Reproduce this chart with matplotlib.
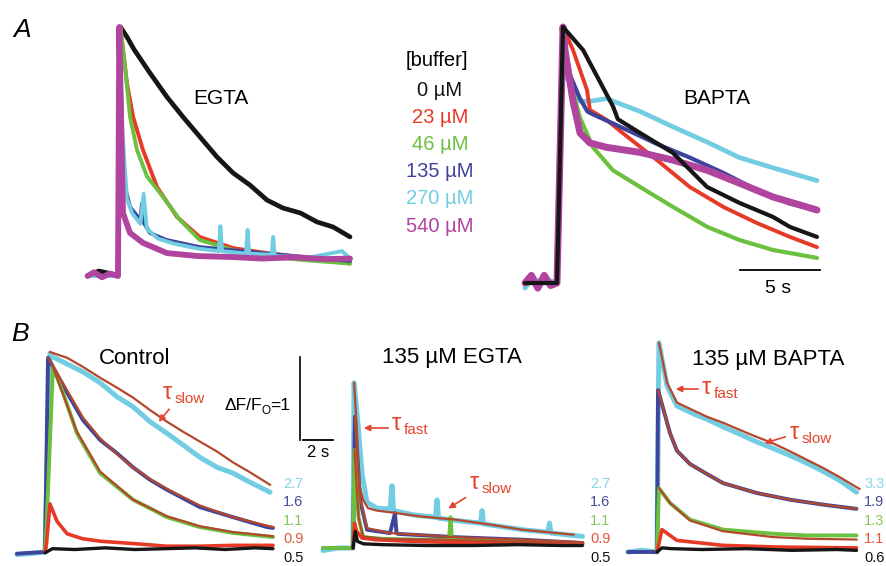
import matplotlib
matplotlib.use("Agg")
import matplotlib.pyplot as plt

plt.rcParams['font.family'] = ['Liberation Sans', 'DejaVu Sans']

W, H = 887, 566

BLACK = '#161616'
RED = '#e63a26'
GREEN = '#6cc040'
BLUE = '#3e449c'
CYAN = '#72cde2'
MAGENTA = '#b0449f'
FIT = '#b4482c'
NOTE = '#e4442c'

CONCS = ['0 µM', '23 µM', '46 µM', '135 µM', '270 µM', '540 µM']
CONC_COLORS = [BLACK, RED, GREEN, BLUE, CYAN, MAGENTA]

# --- A: normalised Ca transients, EGTA (time in s from flash) ---
egta_black_t = [-1.9, -1.2, -0.5, 0.0, 0.15, 0.56, 1.0, 2.0, 3.06, 4.06, 5.13, 6.19, 7.19, 8.25, 9.31, 10.31, 11.4, 12.44, 13.44, 14.5]
egta_black_v = [0.0, 0.02, 0.01, 0.0, 1.0, 0.96, 0.91, 0.815, 0.719, 0.639, 0.558, 0.478, 0.414, 0.365, 0.305, 0.273, 0.253, 0.217, 0.197, 0.157]
egta_red_t = [-1.9, 0.0, 0.15, 0.56, 0.94, 1.56, 2.44, 3.69, 5.1, 7.2, 9.3, 11.4, 14.5]
egta_red_v = [0.0, 0.0, 1.0, 0.775, 0.64, 0.506, 0.357, 0.237, 0.157, 0.112, 0.092, 0.076, 0.05]
egta_green_t = [-1.9, 0.0, 0.15, 0.44, 0.75, 1.19, 1.81, 2.63, 3.88, 5.1, 7.2, 9.3, 11.4, 14.5]
egta_green_v = [0.0, 0.0, 1.0, 0.84, 0.64, 0.506, 0.40, 0.333, 0.225, 0.145, 0.104, 0.08, 0.065, 0.05]
egta_blue_t = [-1.9, 0.0, 0.12, 0.25, 0.44, 0.75, 1.4, 1.5, 1.6, 2.0, 3.0, 5.1, 9.3, 14.5]
egta_blue_v = [0.0, 0.0, 0.98, 0.57, 0.357, 0.277, 0.225, 0.29, 0.215, 0.173, 0.145, 0.116, 0.09, 0.06]
egta_cyan_t = [-1.9, 0.0, 0.1, 0.25, 0.56, 0.9, 1.4, 1.6, 1.8, 2.5, 3.5, 5.0, 6.3, 6.4, 6.5, 8.0, 8.1, 8.2, 9.6, 9.7, 9.8, 12.0, 14.0, 14.5]
egta_cyan_v = [0.0, 0.0, 1.0, 0.6, 0.31, 0.25, 0.21, 0.33, 0.19, 0.15, 0.13, 0.11, 0.1, 0.2, 0.1, 0.09, 0.185, 0.09, 0.085, 0.157, 0.08, 0.075, 0.1, 0.07]
egta_magenta_t = [-1.9, -1.5, -1.0, -0.5, 0.0, 0.08, 0.31, 0.75, 1.56, 3.06, 5.0, 7.2, 9.0, 11.0, 13.0, 14.5]
egta_magenta_v = [0.0, 0.015, -0.005, 0.01, 0.0, 1.0, 0.253, 0.173, 0.133, 0.092, 0.08, 0.076, 0.07, 0.075, 0.068, 0.07]

# --- A: BAPTA ---
bapta_black_t = [-2.0, 0.0, 0.375, 1.63, 3.5, 3.8, 5.19, 7.25, 8.5, 9.38, 11.4, 13.5, 14.56, 16.25]
bapta_black_v = [0.0, 0.0, 1.0, 0.91, 0.69, 0.64, 0.586, 0.508, 0.43, 0.375, 0.313, 0.258, 0.219, 0.18]
bapta_red_t = [-2.0, 0.0, 0.375, 1.0, 1.875, 2.06, 3.1, 4.1, 6.25, 8.3, 10.4, 12.5, 14.56, 16.25]
bapta_red_v = [0.0, 0.0, 1.0, 0.91, 0.754, 0.676, 0.637, 0.586, 0.48, 0.375, 0.297, 0.234, 0.18, 0.14]
bapta_green_t = [-2.0, 0.0, 0.375, 0.625, 1.44, 2.25, 3.5, 5.2, 7.25, 9.4, 11.4, 13.5, 16.25]
bapta_green_v = [0.0, 0.0, 1.0, 0.84, 0.645, 0.53, 0.44, 0.375, 0.297, 0.219, 0.168, 0.129, 0.098]
bapta_blue_t = [-2.0, 0.0, 0.375, 0.625, 1.44, 1.9, 2.2, 4.1, 6.25, 8.3, 10.4, 12.5, 14.56, 16.25]
bapta_blue_v = [0.0, 0.0, 1.0, 0.84, 0.72, 0.67, 0.66, 0.606, 0.543, 0.49, 0.43, 0.363, 0.31, 0.285]
bapta_cyan_t = [-2.0, -1.5, -1.0, -0.5, 0.0, 0.375, 0.625, 1.44, 2.06, 3.1, 5.2, 7.25, 9.4, 11.4, 13.5, 16.25]
bapta_cyan_v = [-0.02, 0.02, 0.0, 0.01, 0.0, 1.0, 0.80, 0.71, 0.71, 0.72, 0.67, 0.61, 0.55, 0.49, 0.45, 0.40]
bapta_magenta_t = [-2.0, -1.6, -1.2, -0.8, -0.4, 0.0, 0.375, 0.5, 1.0, 1.44, 2.06, 3.1, 5.2, 7.25, 9.4, 11.4, 13.5, 16.25]
bapta_magenta_v = [0.0, 0.03, -0.02, 0.03, -0.01, 0.0, 1.0, 0.91, 0.71, 0.586, 0.547, 0.53, 0.51, 0.48, 0.44, 0.39, 0.336, 0.285]

# --- B: dF/F0 at five flash strengths, with exponential fits ---
ctl_cyan_t = [-1.87, -1.0, 0.0, 0.33, 0.53, 2.53, 3.67, 4.8, 5.87, 7.0, 8.13, 9.2, 10.33, 11.47, 12.53, 13.67, 15.0]
ctl_cyan_v = [-0.03, -0.02, 0.0, 2.39, 2.35, 2.17, 2.04, 1.87, 1.75, 1.57, 1.43, 1.29, 1.14, 1.02, 0.95, 0.84, 0.72]
ctl_cyan_fit_t = [0.33, 1.47, 2.53, 3.67, 4.8, 5.87, 7.0, 8.13, 9.2, 10.33, 11.47, 12.53, 13.67, 15.0]
ctl_cyan_fit_v = [2.41, 2.34, 2.23, 2.10, 1.98, 1.86, 1.71, 1.57, 1.45, 1.33, 1.21, 1.08, 0.96, 0.81]
ctl_blue_t = [-1.87, -1.0, 0.0, 0.2, 1.47, 2.53, 3.67, 4.8, 5.87, 7.0, 8.13, 10.33, 12.53, 14.8, 15.2]
ctl_blue_v = [-0.02, -0.01, 0.0, 2.34, 1.92, 1.59, 1.35, 1.19, 1.02, 0.87, 0.75, 0.54, 0.42, 0.30, 0.29]
ctl_blue_fit_t = [0.2, 1.47, 2.53, 3.67, 4.8, 5.87, 7.0, 8.13, 10.33, 12.53, 15.2]
ctl_blue_fit_v = [2.34, 1.95, 1.62, 1.37, 1.18, 1.02, 0.88, 0.76, 0.56, 0.42, 0.30]
ctl_green_t = [0.0, 0.1, 0.53, 1.2, 2.13, 3.67, 5.87, 8.13, 10.33, 12.53, 15.2]
ctl_green_v = [0.0, 0.3, 2.23, 1.92, 1.43, 0.95, 0.63, 0.42, 0.30, 0.23, 0.18]
ctl_green_fit_t = [0.53, 1.2, 2.13, 3.67, 5.87, 8.13, 10.33, 12.53, 15.2]
ctl_green_fit_v = [2.23, 1.90, 1.45, 0.97, 0.63, 0.43, 0.31, 0.24, 0.19]
ctl_red_t = [0.0, 0.1, 0.33, 0.8, 1.47, 2.5, 3.67, 6.0, 8.1, 10.3, 12.5, 15.2]
ctl_red_v = [0.0, 0.1, 0.58, 0.37, 0.22, 0.16, 0.13, 0.10, 0.07, 0.07, 0.08, 0.08]
ctl_black_t = [0.0, 0.5, 2.0, 4.0, 6.0, 8.0, 10.0, 12.0, 14.0, 15.2]
ctl_black_v = [-0.01, 0.04, 0.03, 0.05, 0.03, 0.04, 0.05, 0.03, 0.05, 0.04]

egb_cyan_t = [-2.0, -1.0, 0.0, 0.07, 0.33, 0.6, 0.93, 1.6, 2.47, 2.6, 2.7, 4.0, 5.5, 5.6, 5.7, 6.9, 8.5, 8.6, 8.7, 11.3, 13.0, 13.1, 13.2, 15.3]
egb_cyan_v = [-0.03, 0.0, 0.0, 1.99, 1.5, 0.9, 0.55, 0.48, 0.47, 0.75, 0.45, 0.40, 0.37, 0.58, 0.36, 0.33, 0.30, 0.45, 0.29, 0.22, 0.19, 0.3, 0.18, 0.14]
egb_cyan_fit_t = [0.07, 0.27, 0.33, 0.47, 0.67, 1.0, 1.6, 2.5, 4.5, 6.9, 9.2, 11.3, 14.7]
egb_cyan_fit_v = [1.99, 1.39, 0.98, 0.73, 0.58, 0.48, 0.45, 0.43, 0.38, 0.34, 0.28, 0.22, 0.16]
egb_blue_t = [-2.0, 0.0, 0.13, 0.47, 0.93, 2.47, 2.8, 2.9, 3.0, 6.9, 11.3, 15.3]
egb_blue_v = [0.0, 0.0, 1.58, 0.58, 0.22, 0.18, 0.42, 0.18, 0.17, 0.13, 0.10, 0.06]
egb_blue_fit_t = [0.13, 0.47, 0.93, 2.47, 6.9, 11.3, 15.3]
egb_blue_fit_v = [1.58, 0.6, 0.24, 0.18, 0.13, 0.1, 0.07]
egb_green_t = [-2.0, 0.0, 0.1, 0.37, 0.67, 2.0, 4.7, 6.4, 6.5, 6.6, 10.0, 15.3]
egb_green_v = [0.0, 0.0, 1.18, 0.37, 0.13, 0.11, 0.10, 0.10, 0.37, 0.10, 0.08, 0.05]
egb_green_fit_t = [0.1, 0.37, 0.67, 2.0, 6.0, 10.0, 15.3]
egb_green_fit_v = [1.18, 0.37, 0.14, 0.11, 0.1, 0.08, 0.06]
egb_red_t = [0.0, 0.1, 0.25, 0.6, 1.5, 4.0, 8.0, 12.0, 15.3]
egb_red_v = [0.0, 0.3, 0.2, 0.12, 0.1, 0.08, 0.06, 0.05, 0.05]
egb_black_t = [0.0, 0.15, 0.3, 0.7, 2.0, 5.0, 8.0, 11.0, 14.0, 15.3]
egb_black_v = [0.0, 0.2, 0.08, 0.05, 0.04, 0.03, 0.03, 0.04, 0.03, 0.03]

bpb_cyan_t = [-1.93, -1.0, 0.0, 0.13, 0.67, 1.33, 2.5, 3.33, 4.5, 5.53, 6.6, 7.73, 8.9, 10.0, 11.1, 12.2, 13.3]
bpb_cyan_v = [0.0, 0.02, 0.0, 2.52, 2.0, 1.76, 1.66, 1.6, 1.5, 1.42, 1.33, 1.25, 1.16, 1.07, 0.97, 0.86, 0.72]
bpb_cyan_fit_t = [0.13, 0.67, 1.33, 2.5, 3.33, 4.5, 5.53, 6.6, 7.73, 8.9, 10.0, 11.1, 12.2, 13.5]
bpb_cyan_fit_v = [2.52, 2.04, 1.80, 1.70, 1.63, 1.55, 1.47, 1.39, 1.31, 1.21, 1.11, 1.01, 0.90, 0.76]
bpb_blue_t = [-1.93, 0.0, 0.07, 0.87, 1.33, 2.2, 3.33, 4.4, 6.67, 8.87, 11.1, 13.3]
bpb_blue_v = [0.0, 0.0, 1.95, 1.43, 1.22, 1.06, 0.94, 0.83, 0.71, 0.63, 0.57, 0.52]
bpb_blue_fit_t = [0.07, 0.87, 1.33, 2.2, 3.33, 4.4, 6.67, 8.87, 11.1, 13.3]
bpb_blue_fit_v = [1.95, 1.43, 1.22, 1.06, 0.94, 0.83, 0.71, 0.63, 0.57, 0.52]
bpb_green_t = [0.0, 0.13, 0.87, 2.2, 4.4, 7.73, 10.0, 13.3]
bpb_green_v = [0.0, 0.77, 0.59, 0.39, 0.27, 0.22, 0.2, 0.2]
bpb_green_fit_t = [0.13, 0.87, 2.2, 4.4, 7.73, 10.0, 13.3]
bpb_green_fit_v = [0.77, 0.59, 0.38, 0.25, 0.18, 0.16, 0.15]
bpb_red_t = [0.0, 0.33, 1.33, 4.4, 8.0, 13.3]
bpb_red_v = [0.0, 0.27, 0.14, 0.08, 0.06, 0.05]
bpb_black_t = [0.0, 0.33, 1.0, 3.0, 6.0, 9.0, 12.0, 13.3]
bpb_black_v = [0.0, 0.05, 0.04, 0.03, 0.04, 0.02, 0.03, 0.02]

# flash labels to the right of each panel in B
LEVELS_CTL = ['2.7', '1.6', '1.1', '0.9', '0.5']
LEVELS_EGTA = ['2.7', '1.6', '1.1', '0.9', '0.5']
LEVELS_BAPTA = ['3.3', '1.9', '1.3', '1.1', '0.6']
LEVEL_COLORS = ['#86d2e6', '#464c9c', '#86c65a', '#e2583c', '#111111']

fig = plt.figure(figsize=(W / 100, H / 100), dpi=100)


def px(x, y):
    return x / W, 1 - y / H


def panel(left, top, right, bottom, origin, sx, sy):
    # box given in pixels; origin is where (t=0, v=0) sits; sx px per s, sy px per unit
    ax = fig.add_axes([left / W, 1 - bottom / H, (right - left) / W, (bottom - top) / H])
    ax.set_xlim((left - origin[0]) / sx, (right - origin[0]) / sx)
    ax.set_ylim((origin[1] - bottom) / sy, (origin[1] - top) / sy)
    ax.axis('off')
    ax.patch.set_alpha(0)
    return ax


def trace(ax, t, v, color, lw=2.6):
    ax.plot(t, v, color=color, lw=lw, solid_joinstyle='round', solid_capstyle='round')


def fit(ax, t, v):
    ax.plot(t, v, color=FIT, lw=1.6)


# ---- panel A, EGTA
ax = panel(80, 15, 360, 300, (118, 276), 16, 249)
trace(ax, egta_black_t, egta_black_v, BLACK, 3.4)
trace(ax, egta_red_t, egta_red_v, RED, 2.8)
trace(ax, egta_green_t, egta_green_v, GREEN, 2.8)
trace(ax, egta_blue_t, egta_blue_v, BLUE, 2.8)
trace(ax, egta_cyan_t, egta_cyan_v, CYAN, 2.8)
trace(ax, egta_magenta_t, egta_magenta_v, MAGENTA, 4.2)

# ---- panel A, BAPTA
ax = panel(515, 15, 840, 300, (557, 283), 16, 256)
trace(ax, bapta_cyan_t, bapta_cyan_v, CYAN, 3.4)
trace(ax, bapta_green_t, bapta_green_v, GREEN, 3.0)
trace(ax, bapta_red_t, bapta_red_v, RED, 2.8)
trace(ax, bapta_blue_t, bapta_blue_v, BLUE, 3.0)
trace(ax, bapta_magenta_t, bapta_magenta_v, MAGENTA, 5.0)
trace(ax, bapta_black_t, bapta_black_v, BLACK, 3.0)
ax.plot([11.44, 16.44], [0.05, 0.05], color='black', lw=1.3)
ax.text(13.8, 0.01, '5 s', ha='center', va='top', fontsize=14)

# ---- panel B, control
ax = panel(10, 330, 280, 566, (45, 552), 15, 83)
trace(ax, ctl_cyan_t, ctl_cyan_v, CYAN, 3.6)
trace(ax, ctl_blue_t, ctl_blue_v, BLUE, 2.8)
trace(ax, ctl_green_t, ctl_green_v, GREEN, 2.8)
trace(ax, ctl_red_t, ctl_red_v, RED, 2.6)
trace(ax, ctl_black_t, ctl_black_v, BLACK, 2.4)
fit(ax, ctl_cyan_fit_t, ctl_cyan_fit_v)
fit(ax, ctl_blue_fit_t, ctl_blue_fit_v)
fit(ax, ctl_green_fit_t, ctl_green_fit_v)

# ---- panel B, EGTA (also carries the scale bars)
ax = panel(290, 330, 590, 566, (353, 548), 15, 83)
trace(ax, egb_cyan_t, egb_cyan_v, CYAN, 3.6)
trace(ax, egb_blue_t, egb_blue_v, BLUE, 2.8)
trace(ax, egb_green_t, egb_green_v, GREEN, 2.8)
trace(ax, egb_red_t, egb_red_v, RED, 2.6)
trace(ax, egb_black_t, egb_black_v, BLACK, 2.4)
fit(ax, egb_cyan_fit_t, egb_cyan_fit_v)
fit(ax, egb_blue_fit_t, egb_blue_fit_v)
fit(ax, egb_green_fit_t, egb_green_fit_v)
ax.plot([-3.53, -3.53], [2.30, 1.30], color='black', lw=1.2)
ax.plot([-3.33, -1.33], [1.30, 1.30], color='black', lw=1.3)
ax.text(-2.33, 1.24, '2 s', ha='center', va='top', fontsize=12)

# ---- panel B, BAPTA
ax = panel(620, 330, 865, 566, (657, 552), 15, 83)
trace(ax, bpb_cyan_t, bpb_cyan_v, CYAN, 3.6)
trace(ax, bpb_blue_t, bpb_blue_v, BLUE, 2.8)
trace(ax, bpb_green_t, bpb_green_v, GREEN, 2.8)
trace(ax, bpb_red_t, bpb_red_v, RED, 2.6)
trace(ax, bpb_black_t, bpb_black_v, BLACK, 2.4)
fit(ax, bpb_cyan_fit_t, bpb_cyan_fit_v)
fit(ax, bpb_blue_fit_t, bpb_blue_fit_v)
fit(ax, bpb_green_fit_t, bpb_green_fit_v)

# ---- text
fig.text(*px(22, 30), 'A', fontsize=19, style='italic', ha='center', va='center')
fig.text(*px(20, 334), 'B', fontsize=19, style='italic', ha='center', va='center')
fig.text(*px(221, 98), 'EGTA', fontsize=15, ha='center', va='center')
fig.text(*px(717, 99), 'BAPTA', fontsize=15, ha='center', va='center')
fig.text(*px(437, 60), '[buffer]', fontsize=14.5, ha='center', va='center')
for i, (lab, col) in enumerate(zip(CONCS, CONC_COLORS)):
    fig.text(*px(440, 90 + 27.2 * i), lab, fontsize=14.5, color=col, ha='center', va='center')

fig.text(*px(135, 358), 'Control', fontsize=16, ha='center', va='center')
fig.text(*px(452, 357), '135 µM EGTA', fontsize=16, ha='center', va='center')
fig.text(*px(768, 359), '135 µM BAPTA', fontsize=16, ha='center', va='center')

# dF/F0 scale label, built from pieces so the subscript O sits low
fig.text(*px(262, 405), 'ΔF/F', fontsize=12.5, ha='right', va='center')
fig.text(*px(262, 411), 'O', fontsize=8.5, ha='left', va='center')
fig.text(*px(270, 405), '=1', fontsize=12.5, ha='left', va='center')

for x0, labels in ((283, LEVELS_CTL), (590, LEVELS_EGTA), (864, LEVELS_BAPTA)):
    for i, (lab, col) in enumerate(zip(labels, LEVEL_COLORS)):
        fig.text(*px(x0, 484 + 18.4 * i), lab, fontsize=10.5, color=col, ha='left', va='center')


def tau(x, y, sub):
    fig.text(*px(x, y), 'τ', fontsize=17, color=NOTE, ha='left', va='center')
    fig.text(*px(x + 12, y + 6), sub, fontsize=11, color=NOTE, ha='left', va='center')


def arrow(x0, y0, x1, y1):
    fig.add_artist(matplotlib.patches.FancyArrowPatch(
        px(x0, y0), px(x1, y1), transform=fig.transFigure,
        arrowstyle='-|>', mutation_scale=9, color=NOTE, lw=1.2))


tau(163, 393, 'slow')
arrow(171, 407, 157, 424)
tau(392, 424, 'fast')
arrow(391, 428, 361, 428)
tau(470, 483, 'slow')
arrow(468, 496, 446, 510)
tau(702, 388, 'fast')
arrow(701, 389, 673, 389)
tau(790, 433, 'slow')
arrow(788, 436, 762, 444)

fig.savefig('out.png', dpi=100)
